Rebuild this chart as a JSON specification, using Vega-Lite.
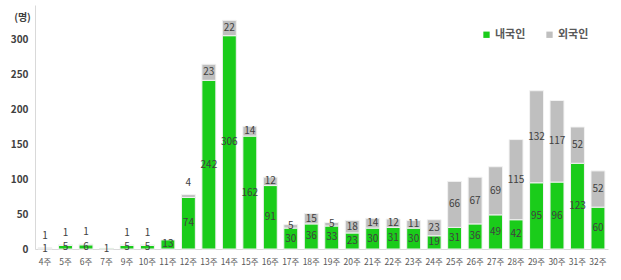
{
  "$schema": "https://vega.github.io/schema/vega-lite/v6.json",
  "width": 573,
  "height": 244,
  "autosize": "none",
  "padding": {"left": 35, "top": 5, "right": 13, "bottom": 31},
  "background": "white",
  "config": {
    "font": "Noto Sans CJK KR",
    "view": {"stroke": null}
  },
  "data": {
    "values": [
      {"week": "4주", "type": "내국인", "count": 1}, {"week": "4주", "type": "외국인", "count": 1},
      {"week": "5주", "type": "내국인", "count": 5}, {"week": "5주", "type": "외국인", "count": 1},
      {"week": "6주", "type": "내국인", "count": 6}, {"week": "6주", "type": "외국인", "count": 1},
      {"week": "7주", "type": "내국인", "count": 1},
      {"week": "9주", "type": "내국인", "count": 5}, {"week": "9주", "type": "외국인", "count": 1},
      {"week": "10주", "type": "내국인", "count": 5}, {"week": "10주", "type": "외국인", "count": 1},
      {"week": "11주", "type": "내국인", "count": 13},
      {"week": "12주", "type": "내국인", "count": 74}, {"week": "12주", "type": "외국인", "count": 4},
      {"week": "13주", "type": "내국인", "count": 242}, {"week": "13주", "type": "외국인", "count": 23},
      {"week": "14주", "type": "내국인", "count": 306}, {"week": "14주", "type": "외국인", "count": 22},
      {"week": "15주", "type": "내국인", "count": 162}, {"week": "15주", "type": "외국인", "count": 14},
      {"week": "16주", "type": "내국인", "count": 91}, {"week": "16주", "type": "외국인", "count": 12},
      {"week": "17주", "type": "내국인", "count": 30}, {"week": "17주", "type": "외국인", "count": 5},
      {"week": "18주", "type": "내국인", "count": 36}, {"week": "18주", "type": "외국인", "count": 15},
      {"week": "19주", "type": "내국인", "count": 33}, {"week": "19주", "type": "외국인", "count": 5},
      {"week": "20주", "type": "내국인", "count": 23}, {"week": "20주", "type": "외국인", "count": 18},
      {"week": "21주", "type": "내국인", "count": 30}, {"week": "21주", "type": "외국인", "count": 14},
      {"week": "22주", "type": "내국인", "count": 31}, {"week": "22주", "type": "외국인", "count": 12},
      {"week": "23주", "type": "내국인", "count": 30}, {"week": "23주", "type": "외국인", "count": 11},
      {"week": "24주", "type": "내국인", "count": 19}, {"week": "24주", "type": "외국인", "count": 23},
      {"week": "25주", "type": "내국인", "count": 31}, {"week": "25주", "type": "외국인", "count": 66},
      {"week": "26주", "type": "내국인", "count": 36}, {"week": "26주", "type": "외국인", "count": 67},
      {"week": "27주", "type": "내국인", "count": 49}, {"week": "27주", "type": "외국인", "count": 69},
      {"week": "28주", "type": "내국인", "count": 42}, {"week": "28주", "type": "외국인", "count": 115},
      {"week": "29주", "type": "내국인", "count": 95}, {"week": "29주", "type": "외국인", "count": 132},
      {"week": "30주", "type": "내국인", "count": 96}, {"week": "30주", "type": "외국인", "count": 117},
      {"week": "31주", "type": "내국인", "count": 123}, {"week": "31주", "type": "외국인", "count": 52},
      {"week": "32주", "type": "내국인", "count": 60}, {"week": "32주", "type": "외국인", "count": 52}
    ]
  },
  "transform": [
    {"stack": "count", "groupby": ["week"], "sort": [{"field": "type"}], "as": ["y0", "y1"]},
    {"calculate": "(datum.y0 + datum.y1) / 2", "as": "mid"}
  ],
  "encoding": {
    "x": {
      "field": "week", "type": "nominal", "sort": null,
      "scale": {"paddingInner": 0.32, "paddingOuter": 0.15},
      "axis": {
        "title": null, "labelAngle": 0, "ticks": false,
        "domainColor": "#d9d9d9", "labelColor": "#595959",
        "labelFontSize": 8.5, "labelPadding": 8
      }
    }
  },
  "layer": [
    {
      "mark": {"type": "bar", "stroke": "#f2f2f2", "strokeWidth": 1},
      "encoding": {
        "y": {
          "field": "y0", "type": "quantitative",
          "scale": {"domain": [0, 350], "nice": false},
          "axis": {
            "title": "(명)", "titleAngle": 0, "titleX": -13, "titleY": 12,
            "titleAlign": "center", "titleBaseline": "middle",
            "titleFontSize": 10, "titleFontWeight": "bold", "titleColor": "#404040",
            "values": [0, 50, 100, 150, 200, 250, 300],
            "grid": false, "ticks": false, "domainColor": "#d9d9d9",
            "labelColor": "#404040", "labelFontWeight": "bold", "labelFontSize": 10,
            "labelPadding": 7
          }
        },
        "y2": {"field": "y1"},
        "color": {
          "field": "type", "type": "nominal",
          "scale": {"domain": ["내국인", "외국인"], "range": ["#1acc1a", "#bfbfbf"]},
          "legend": {
            "title": null, "orient": "none", "direction": "horizontal",
            "legendX": 446, "legendY": 24,
            "symbolType": "square", "symbolSize": 40, "symbolStrokeWidth": 0,
            "labelFontSize": 11, "labelFontWeight": "bold", "labelColor": "#595959",
            "columnPadding": 18, "labelOffset": 3
          }
        }
      }
    },
    {
      "transform": [{"filter": "datum.type == '내국인' || datum.count >= 5"}],
      "mark": {"type": "text", "fontSize": 10, "color": "#404040", "baseline": "middle"},
      "encoding": {
        "y": {"field": "mid", "type": "quantitative"},
        "text": {"field": "count", "type": "quantitative"}
      }
    },
    {
      "transform": [{"filter": "datum.type == '외국인' && datum.count < 5"}],
      "mark": {"type": "text", "fontSize": 10, "color": "#404040", "baseline": "middle", "dy": -12},
      "encoding": {
        "y": {"field": "y1", "type": "quantitative"},
        "text": {"field": "count", "type": "quantitative"}
      }
    }
  ]
}
